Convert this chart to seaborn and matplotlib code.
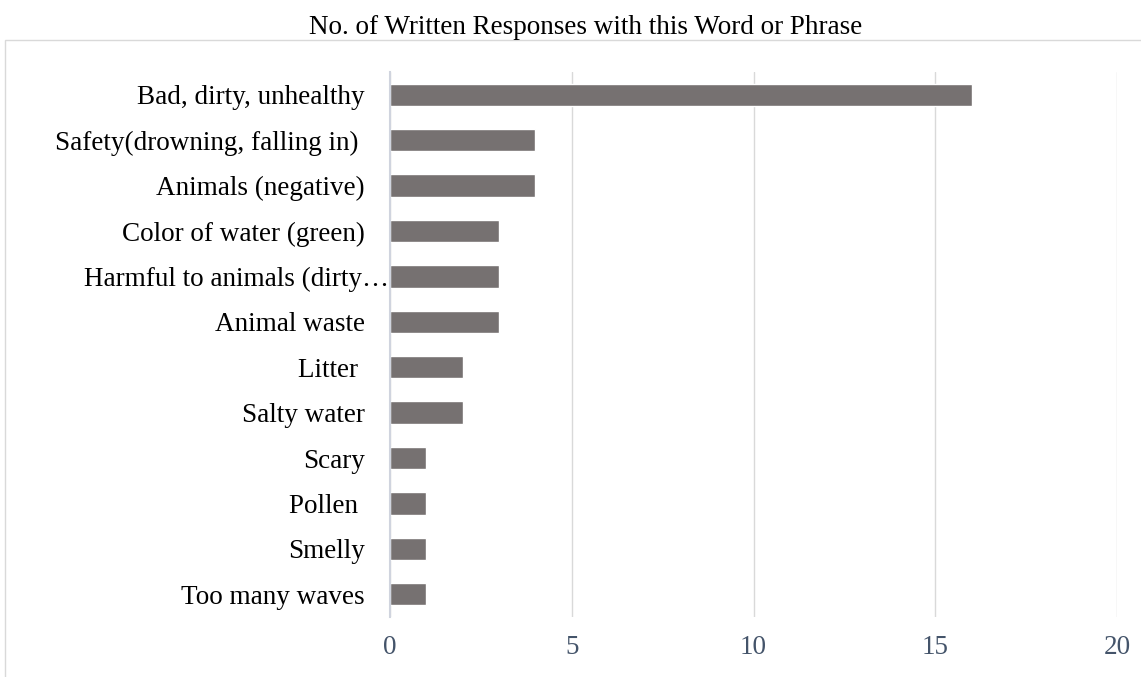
import matplotlib
matplotlib.use("Agg")
import matplotlib.pyplot as plt
from matplotlib.patches import Rectangle
from matplotlib.transforms import ScaledTranslation
import seaborn as sns
import pandas as pd

categories = [
    "Bad, dirty, unhealthy",
    "Safety(drowning, falling in) ",
    "Animals (negative)",
    "Color of water (green)",
    "Harmful to animals (dirty\u2026",
    "Animal waste",
    "Litter ",
    "Salty water",
    "Scary",
    "Pollen ",
    "Smelly",
    "Too many waves",
]
counts = [16, 4, 4, 3, 3, 3, 2, 2, 1, 1, 1, 1]
x_ticks = [0, 5, 10, 15, 20]

df = pd.DataFrame({"category": categories, "count": counts})

sns.set_theme(style="white")
plt.rcParams["font.family"] = ["Liberation Serif", "DejaVu Serif"]

W, H = 1141, 677
FS = 19.5
fig = plt.figure(figsize=(W / 100, H / 100), dpi=100)
fig.patch.set_facecolor("white")

# plot area in pixels: left 390, right 1117, top 72, bottom 617
ax = fig.add_axes([390 / W, 1 - 617 / H, (1117 - 390) / W, (617 - 72) / H])

sns.barplot(data=df, x="count", y="category", ax=ax, color="#767171",
            width=0.49, saturation=1, orient="h")

ax.set_xlim(0, 20)
ax.set_xticks(x_ticks)
ax.set_xticklabels([str(t) for t in x_ticks], fontsize=FS, color="#44546A")
ax.tick_params(axis="x", length=0, pad=13)
ax.tick_params(axis="y", length=0, pad=18, labelsize=FS, labelcolor="black")
ax.set_xlabel("")
ax.set_ylabel("")
ax.grid(axis="x", color="#D9D9D9", linewidth=1)
ax.set_axisbelow(True)
for side in ["top", "right", "bottom"]:
    ax.spines[side].set_visible(False)
ax.spines["left"].set_color("#D0D4DE")
ax.spines["left"].set_linewidth(1.5)

# the truncated label runs right up to the axis line
long_label = ax.get_yticklabels()[4]
long_label.set_transform(long_label.get_transform()
                         + ScaledTranslation(24 / 100, 0, fig.dpi_scale_trans))

# outer chart frame
fig.patches.append(Rectangle((5 / W, -0.05), 1.1, 1 - 40 / H + 0.05,
                             transform=fig.transFigure, fill=False,
                             edgecolor="#D9D9D9", linewidth=1))

fig.text(586 / W, 1 - 27 / H, "No. of Written Responses with this Word or Phrase",
         ha="center", va="center", fontsize=FS, color="black")

fig.savefig("out.png", dpi=100)
